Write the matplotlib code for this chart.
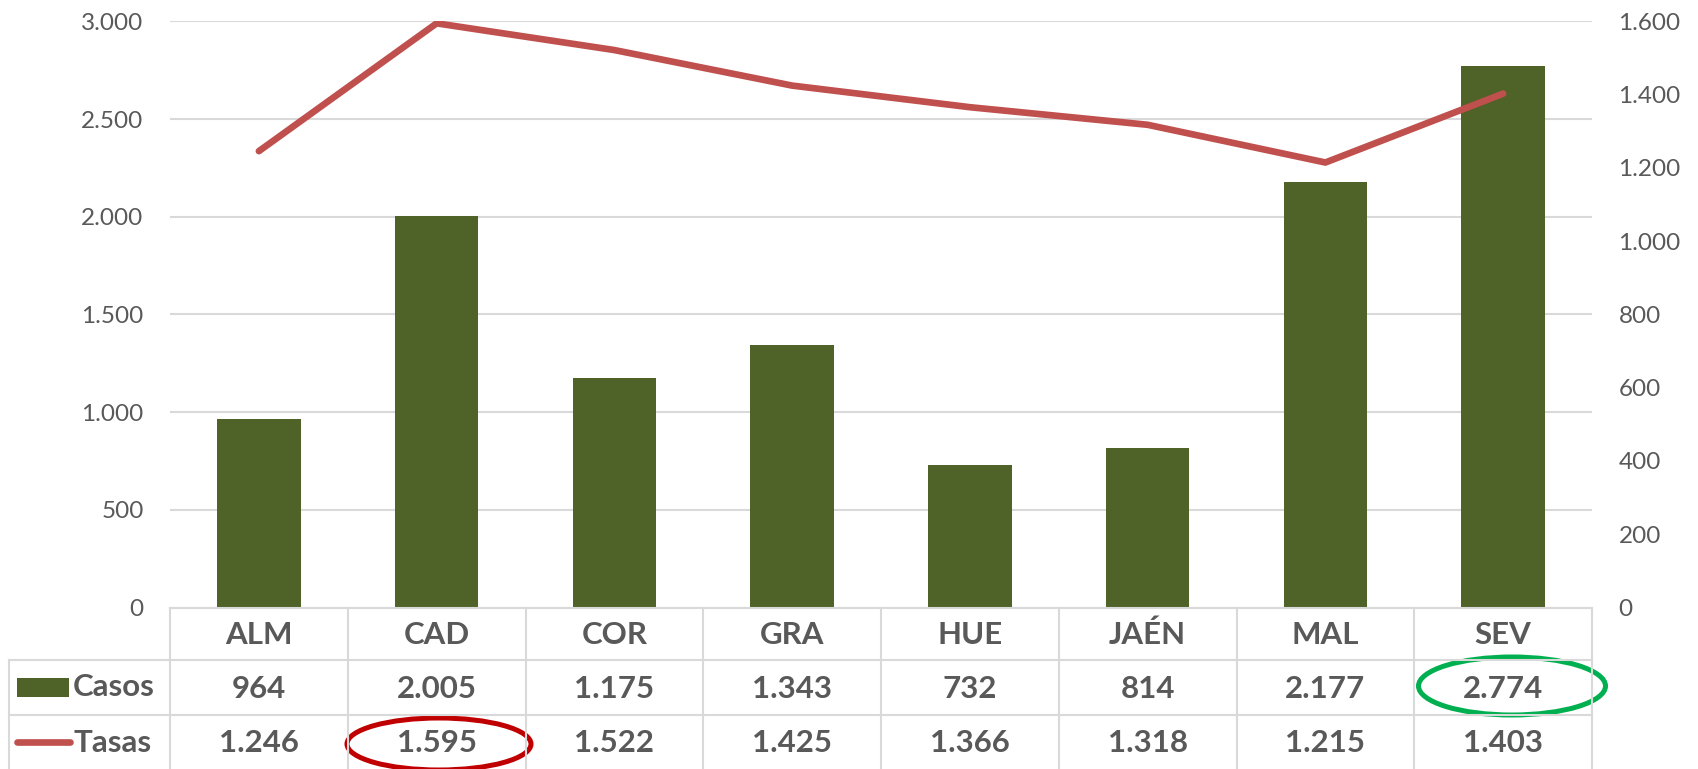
import matplotlib
matplotlib.use("Agg")
import matplotlib.pyplot as plt
from matplotlib.lines import Line2D
from matplotlib.patches import Rectangle, Ellipse
from matplotlib.transforms import blended_transform_factory
from matplotlib.ticker import FuncFormatter

# ---- data ----
categories = ["ALM", "CAD", "COR", "GRA", "HUE", "JAÉN", "MAL", "SEV"]
casos = [964, 2005, 1175, 1343, 732, 814, 2177, 2774]
tasas = [1246, 1595, 1522, 1425, 1366, 1318, 1215, 1403]
series_names = ["Casos", "Tasas"]

# ---- style ----
BAR = "#4F6228"
LINE = "#C0504D"
TXT = "#595959"
GRID = "#D9D9D9"
plt.rcParams["font.family"] = ["Lato", "DejaVu Sans"]

W, H = 1698, 769
fig = plt.figure(figsize=(W / 100, H / 100), dpi=100)

def fy(y):
    return 1 - y / H

L, R, T, B = 170, 1592, 21.5, 607.5
ax = fig.add_axes([L / W, fy(B), (R - L) / W, (B - T) / H])
ax2 = ax.twinx()

def thousands(v, pos=None):
    return f"{int(round(v)):,}".replace(",", ".")

x = list(range(len(categories)))
ax.bar(x, casos, width=0.47, color=BAR, zorder=3)
ax.set_xlim(-0.5, len(categories) - 0.5)
ax.set_ylim(0, 3000)
ax.set_yticks(range(0, 3001, 500))
ax.yaxis.set_major_formatter(FuncFormatter(thousands))
ax.grid(axis="y", color=GRID, linewidth=1.5, zorder=0)
ax.set_axisbelow(True)
ax.set_xticks([])

ax2.plot(x, tasas, color=LINE, linewidth=4.8, solid_capstyle="round",
         solid_joinstyle="round", zorder=4)
ax2.set_ylim(0, 1600)
ax2.set_yticks(range(0, 1601, 200))
ax2.yaxis.set_major_formatter(FuncFormatter(thousands))

for a in (ax, ax2):
    for s in a.spines.values():
        s.set_visible(False)
    a.tick_params(axis="y", length=0, labelsize=17.5, labelcolor=TXT, pad=19)
    a.tick_params(axis="x", length=0)

# ---- data table ----
tr = blended_transform_factory(ax.transData, fig.transFigure)
ffig = fig.transFigure
rows_y = [608, 660, 715, 772]
lc = dict(color=GRID, linewidth=1.5, clip_on=False)

# horizontal lines
fig.add_artist(Line2D([L / W, R / W], [fy(rows_y[0])] * 2, transform=ffig, **lc))
for yy in rows_y[1:]:
    fig.add_artist(Line2D([9 / W, R / W], [fy(yy)] * 2, transform=ffig, **lc))
# vertical lines
for k in range(len(categories) + 1):
    xx = k - 0.5
    fig.add_artist(Line2D([xx, xx], [fy(rows_y[0]), fy(rows_y[-1])], transform=tr, **lc))
fig.add_artist(Line2D([9 / W, 9 / W], [fy(rows_y[1]), fy(rows_y[-1])], transform=ffig, **lc))

tfont = dict(fontsize=22.5, fontweight="bold", color=TXT, ha="center", va="center")
for i, c in enumerate(categories):
    fig.text(i, fy((rows_y[0] + rows_y[1]) / 2 + 1), c, transform=tr, **tfont)
    fig.text(i, fy((rows_y[1] + rows_y[2]) / 2 + 1), thousands(casos[i]), transform=tr, **tfont)
    fig.text(i, fy((rows_y[2] + 769) / 2 + 1), thousands(tasas[i]), transform=tr, **tfont)

# legend keys in table
fig.add_artist(Rectangle((17 / W, fy(697)), 52 / W, 19 / H, transform=ffig,
                         facecolor=BAR, edgecolor="none"))
fig.add_artist(Line2D([17 / W, 70 / W], [fy(742)] * 2, transform=ffig, color=LINE,
                      linewidth=4.8, solid_capstyle="round"))
fig.text(73 / W, fy(687), series_names[0], transform=ffig, fontsize=22.5,
         fontweight="bold", color=TXT, ha="left", va="center")
fig.text(73 / W, fy(743), series_names[1], transform=ffig, fontsize=22.5,
         fontweight="bold", color=TXT, ha="left", va="center")

# highlight ellipses
fig.add_artist(Ellipse((439 / W, fy(744)), 184 / W, 52 / H, transform=ffig,
                       fill=False, edgecolor="#C00000", linewidth=3.6))
fig.add_artist(Ellipse((1512 / W, fy(686)), 187 / W, 58 / H, transform=ffig,
                       fill=False, edgecolor="#00B050", linewidth=3.6))

fig.savefig("out.png", dpi=100)
